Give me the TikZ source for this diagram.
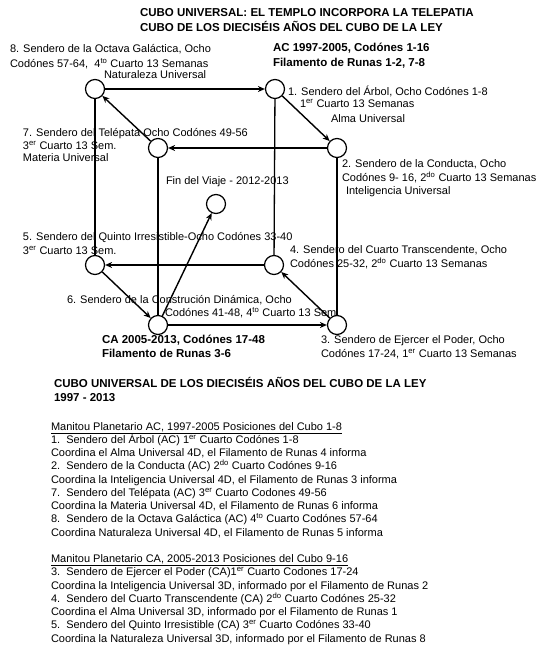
\documentclass[tikz,border=0pt]{standalone}
\usepackage{fontspec}
\setmainfont{Liberation Sans}
\usetikzlibrary{arrows.meta}
\begin{document}
\begin{tikzpicture}[x=1pt,y=-1pt,
  font=\fontsize{11}{13.25}\selectfont,
  vert/.style={circle,draw,line width=1.2pt,minimum size=19pt,inner sep=0pt},
  txt/.style={anchor=base west,inner sep=0pt,outer sep=0pt},
  btxt/.style={txt,font=\fontsize{11.5}{13.5}\selectfont\bfseries},
  arr/.style={line width=1.4pt,-{Stealth[length=7pt,width=6pt]}},
  cedge/.style={line width=1.3pt}]
\useasboundingbox (0,0) rectangle (556,646);
% vertices
\node[vert] (n8) at (95,89) {};
\node[vert] (n1) at (275,89) {};
\node[vert] (n7) at (158,148) {};
\node[vert] (n2) at (337,148) {};
\node[vert] (fin) at (216,204) {};
\node[vert] (n5) at (95,265) {};
\node[vert] (n4) at (274,265) {};
\node[vert] (n6) at (158,325) {};
\node[vert] (n3) at (337,325) {};
% vertical edges
\draw[cedge] (n8) -- (n5);
\draw[cedge] (n1) -- (n4);
\draw[cedge] (n7) -- (n6);
\draw[cedge] (n2) -- (n3);
% arrows
\draw[arr] (n8) -- (n1);
\draw[arr] (n1) -- (n2);
\draw[arr] (n2) -- (n7);
\draw[arr] (n7) -- (n8);
\draw[arr] (n4) -- (n5);
\draw[arr] (n5) -- (n6);
\draw[arr] (n6) -- (n3);
\draw[arr] (n3) -- (n4);
\draw[arr] (n6) -- (fin);
% titles
\node[btxt] (t1) at (140,16) {CUBO UNIVERSAL: EL TEMPLO INCORPORA LA TELEPATIA};
\node[btxt] (t2) at (140,31) {CUBO DE LOS DIECISÉIS AÑOS DEL CUBO DE LA LEY};
% labels
\node[txt] (l8a) at (10,52) {8. Sendero de la Octava Galáctica, Ocho};
\node[txt] (l8b) at (10,67) {Codónes 57-64,\ \ 4\textsuperscript{to} Cuarto 13 Semanas};
\node[txt] (l8c) at (104,78) {Naturaleza Universal};
\node[btxt] (aca) at (273,51) {AC 1997-2005, Codónes 1-16};
\node[btxt] (acb) at (273,66) {Filamento de Runas 1-2, 7-8};
\node[txt] (l1a) at (288,95) {1. Sendero del Árbol, Ocho Codónes 1-8};
\node[txt] (l1b) at (300,107) {1\textsuperscript{er} Cuarto 13 Semanas};
\node[txt] (l1c) at (331,122) {Alma Universal};
\node[txt] (l7a) at (23,136) {7. Sendero del Telépata Ocho Codónes 49-56};
\node[txt] (l7b) at (23,149) {3\textsuperscript{er} Cuarto 13 Sem.};
\node[txt] (l7c) at (23,161) {Materia Universal};
\node[txt] (l2a) at (342,167) {2. Sendero de la Conducta, Ocho};
\node[txt] (l2b) at (342,181) {Codónes 9- 16, 2\textsuperscript{do} Cuarto 13 Semanas};
\node[txt] (l2c) at (346,194) {Inteligencia Universal};
\node[txt] (lfin) at (166,184) {Fin del Viaje - 2012-2013};
\node[txt] (l5a) at (23,240) {5. Sendero del Quinto Irresistible-Ocho Codónes 33-40};
\node[txt] (l5b) at (23,254) {3\textsuperscript{er} Cuarto 13 Sem.};
\node[txt] (l4a) at (290,253) {4. Sendero del Cuarto Transcendente, Ocho};
\node[txt] (l4b) at (290,267) {Codónes 25-32, 2\textsuperscript{do} Cuarto 13 Semanas};
\node[txt] (l6a) at (67,303) {6. Sendero de la Construción Dinámica, Ocho};
\node[txt] (l6b) at (165,316) {Codónes 41-48, 4\textsuperscript{to} Cuarto 13 Sem.};
\node[txt] (l3a) at (321,343) {3. Sendero de Ejercer el Poder, Ocho};
\node[txt] (l3b) at (321,357) {Codónes 17-24, 1\textsuperscript{er} Cuarto 13 Semanas};
\node[btxt] (caa) at (102,343) {CA 2005-2013, Codónes 17-48};
\node[btxt] (cab) at (102,357) {Filamento de Runas 3-6};
% bottom heading
\node[btxt] (h1) at (54,387) {CUBO UNIVERSAL DE LOS DIECISÉIS AÑOS DEL CUBO DE LA LEY};
\node[btxt] (h2) at (54,401) {1997 - 2013};
% bottom block
\node[txt] (b0) at (51,430) {\underline{Manitou Planetario AC, 1997-2005 Posiciones del Cubo 1-8}};
\node[txt] (b1) at (51,443.25) {1.\ \ Sendero del Árbol (AC) 1\textsuperscript{er} Cuarto Codónes 1-8};
\node[txt] (b2) at (51,456.5) {Coordina el Alma Universal 4D, el Filamento de Runas 4 informa};
\node[txt] (b3) at (51,469.75) {2.\ \ Sendero de la Conducta (AC) 2\textsuperscript{do} Cuarto Codónes 9-16};
\node[txt] (b4) at (51,483) {Coordina la Inteligencia Universal 4D, el Filamento de Runas 3 informa};
\node[txt] (b5) at (51,496.25) {7.\ \ Sendero del Telépata (AC) 3\textsuperscript{er} Cuarto Codones 49-56};
\node[txt] (b6) at (51,509.5) {Coordina la Materia Universal 4D, el Filamento de Runas 6 informa};
\node[txt] (b7) at (51,522.75) {8.\ \ Sendero de la Octava Galáctica (AC) 4\textsuperscript{to} Cuarto Codónes 57-64};
\node[txt] (b8) at (51,536) {Coordina Naturaleza Universal 4D, el Filamento de Runas 5 informa};
\node[txt] (b10) at (51,562.5) {\underline{Manitou Planetario CA, 2005-2013 Posiciones del Cubo 9-16}};
\node[txt] (b11) at (51,575.75) {3.\ \ Sendero de Ejercer el Poder (CA)1\textsuperscript{er} Cuarto Codones 17-24};
\node[txt] (b12) at (51,589) {Coordina la Inteligencia Universal 3D, informado por el Filamento de Runas 2};
\node[txt] (b13) at (51,602.25) {4.\ \ Sendero del Cuarto Transcendente (CA) 2\textsuperscript{do} Cuarto Codónes 25-32};
\node[txt] (b14) at (51,615.5) {Coordina el Alma Universal 3D, informado por el Filamento de Runas 1};
\node[txt] (b15) at (51,628.75) {5.\ \ Sendero del Quinto Irresistible (CA) 3\textsuperscript{er} Cuarto Codónes 33-40};
\node[txt] (b16) at (51,642) {Coordina la Naturaleza Universal 3D, informado por el Filamento de Runas 8};
\end{tikzpicture}
\end{document}
